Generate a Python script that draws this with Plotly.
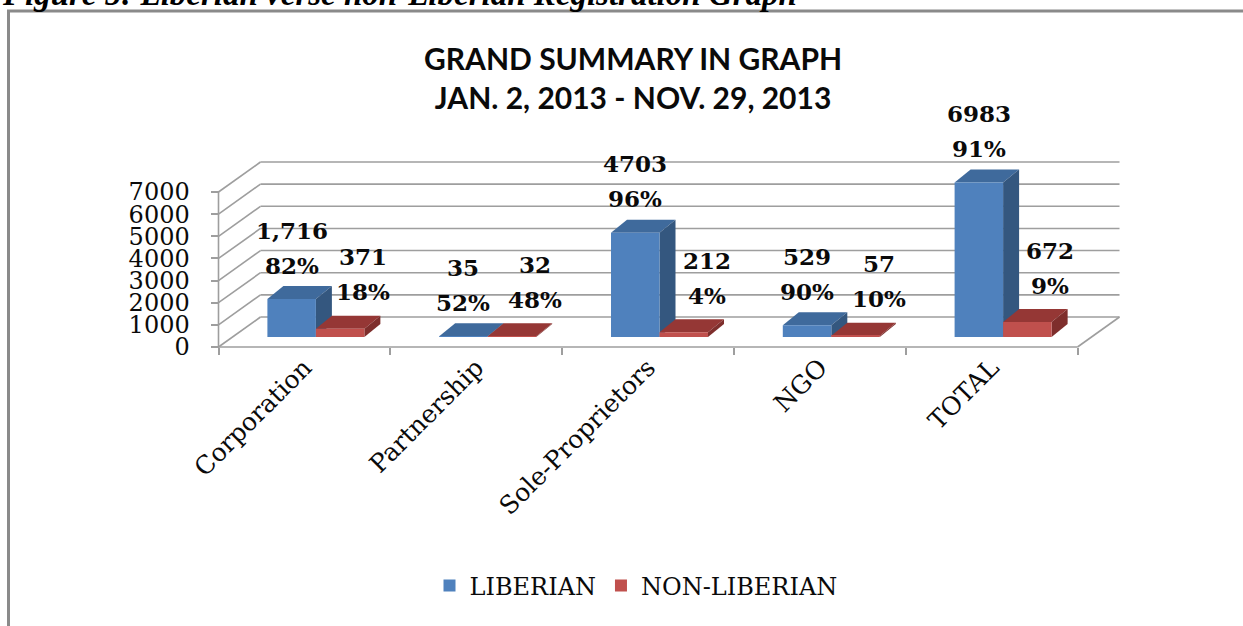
import plotly.graph_objects as go

# ---------------- data ----------------
CATEGORIES = ["Corporation", "Partnership", "Sole-Proprietors", "NGO", "TOTAL"]
LIBERIAN = [1716, 35, 4703, 529, 6983]
NON_LIBERIAN = [371, 32, 212, 57, 672]
LIBERIAN_TEXT = ["1,716", "35", "4703", "529", "6983"]
NON_LIBERIAN_TEXT = ["371", "32", "212", "57", "672"]
Y_TICKS = [0, 1000, 2000, 3000, 4000, 5000, 6000, 7000]
SERIES = ["LIBERIAN", "NON-LIBERIAN"]
TITLE = "GRAND SUMMARY IN GRAPH<br>JAN. 2, 2013 - NOV. 29, 2013"
CAPTION = "Figure 5: Liberian verse non-Liberian Registration Graph"

# ---------------- geometry (pixels) ----------------
W, H = 1243, 626
AX_X0, AX_X1 = 218.5, 1077.5      # front floor edge spans the categories
AX_Y0, AX_YTOP = 347.0, 192.0     # pixel of 0 and of top tick on the front plane
N = len(CATEGORIES)
PXX = (AX_X1 - AX_X0) / N
PXY = (AX_Y0 - AX_YTOP) / Y_TICKS[-1]


def dxu(px):
    return px / PXX


def dyu(px):
    return px / PXY


X_RANGE = [-0.5 - AX_X0 / PXX, -0.5 + (W - AX_X0) / PXX]
Y_RANGE = [-(H - AX_Y0) / PXY, AX_Y0 / PXY]

WALL_DX, WALL_DY = dxu(42), dyu(30)
BAR_SHIFT, BAR_W = 11.5, 48.5
BAR_BASE = dyu(10)
DEPTH_DX, DEPTH_DY = dxu(16), dyu(13)

BLUE = dict(front="#4F81BD", top="#3F6A9C", side="#34577F")
RED = dict(front="#C0504D", top="#953735", side="#7E2E2C")
GRID = "#9e9e9e"
SERIF = "DejaVu Serif"

idx = list(range(N))
xmin, xmax = -0.5, N - 0.5

fig = go.Figure()
offsets = [dxu(BAR_SHIFT - BAR_W), dxu(BAR_SHIFT)]
for name, vals, col, off in [(SERIES[0], LIBERIAN, BLUE, offsets[0]),
                             (SERIES[1], NON_LIBERIAN, RED, offsets[1])]:
    fig.add_trace(go.Bar(
        x=idx, y=vals, base=[BAR_BASE] * N, name=name,
        offset=off, width=dxu(BAR_W),
        marker=dict(color=col["front"], line=dict(width=0)),
        hoverinfo="name+y",
    ))

shapes = []
# walls / gridlines
for v in Y_TICKS:
    shapes.append(dict(type="line", xref="x", yref="y", layer="below",
                       x0=xmin, y0=v, x1=xmin + WALL_DX, y1=v + WALL_DY,
                       line=dict(color=GRID, width=1.6)))
    shapes.append(dict(type="line", xref="x", yref="y", layer="below",
                       x0=xmin + WALL_DX, y0=v + WALL_DY, x1=xmax + WALL_DX, y1=v + WALL_DY,
                       line=dict(color=GRID, width=1.6)))
# front y axis line
shapes.append(dict(type="line", xref="x", yref="y", layer="below",
                   x0=xmin, y0=Y_TICKS[0], x1=xmin, y1=Y_TICKS[-1],
                   line=dict(color=GRID, width=1.6)))
# floor front edge and right edge
shapes.append(dict(type="line", xref="x", yref="y", layer="below",
                   x0=xmin, y0=0, x1=xmax, y1=0, line=dict(color=GRID, width=1.6)))
shapes.append(dict(type="line", xref="x", yref="y", layer="below",
                   x0=xmax, y0=0, x1=xmax + WALL_DX, y1=WALL_DY,
                   line=dict(color=GRID, width=1.6)))


def faces(x0, v, col):
    x1 = x0 + dxu(BAR_W)
    yb, yt = BAR_BASE, BAR_BASE + v
    top = (f"M {x0},{yt} L {x1},{yt} L {x1 + DEPTH_DX},{yt + DEPTH_DY} "
           f"L {x0 + DEPTH_DX},{yt + DEPTH_DY} Z")
    side = (f"M {x1},{yb} L {x1},{yt} L {x1 + DEPTH_DX},{yt + DEPTH_DY} "
            f"L {x1 + DEPTH_DX},{yb + DEPTH_DY} Z")
    return [dict(type="path", path=top, xref="x", yref="y", layer="below",
                 fillcolor=col["top"], line=dict(width=0)),
            dict(type="path", path=side, xref="x", yref="y", layer="below",
                 fillcolor=col["side"], line=dict(width=0))]


for i in idx:
    shapes += faces(i + offsets[0], LIBERIAN[i], BLUE)
    shapes += faces(i + offsets[1], NON_LIBERIAN[i], RED)

# outer frame
shapes.append(dict(type="rect", xref="paper", yref="paper",
                   x0=8.5 / W, x1=1.05, y0=-0.05, y1=1 - 11 / H,
                   line=dict(color="#8a8a8a", width=3), layer="above"))

annotations = []
lab_font = dict(family=SERIF, size=23, color="#0a0a0a")
for i in idx:
    a, b = LIBERIAN[i], NON_LIBERIAN[i]
    pa = round(100 * a / (a + b))
    pb = round(100 * b / (a + b))
    xb = i + offsets[0] + dxu(BAR_W) / 2
    xr_ = i + offsets[1] + dxu(BAR_W) / 2
    annotations += [
        dict(x=xb, y=BAR_BASE + a, xref="x", yref="y", text=f"<b>{LIBERIAN_TEXT[i]}</b>",
             showarrow=False, yshift=69, font=lab_font),
        dict(x=xb, y=BAR_BASE + a, xref="x", yref="y", text=f"<b>{pa}%</b>",
             showarrow=False, yshift=34, font=lab_font),
        dict(x=xr_, y=BAR_BASE + b, xref="x", yref="y", text=f"<b>{NON_LIBERIAN_TEXT[i]}</b>",
             showarrow=False, yshift=72, xshift=23, font=lab_font),
        dict(x=xr_, y=BAR_BASE + b, xref="x", yref="y", text=f"<b>{pb}%</b>",
             showarrow=False, yshift=37, xshift=23, font=lab_font),
    ]

annotations.append(dict(x=633 / W, y=1 - 78 / H, xref="paper", yref="paper",
                        text=f"<b>{TITLE}</b>", showarrow=False, xanchor="center", yanchor="middle",
                        font=dict(family="Lato", size=30, color="#0a0a0a")))
annotations.append(dict(x=0, y=1 - 14 / H, xref="paper", yref="paper",
                        text=f"<b><i>{CAPTION}</i></b>", showarrow=False,
                        xanchor="left", yanchor="bottom",
                        font=dict(family="Liberation Serif", size=33, color="#000000")))

fig.update_layout(
    width=W, height=H,
    margin=dict(l=0, r=0, t=0, b=0),
    paper_bgcolor="white", plot_bgcolor="rgba(0,0,0,0)",
    barmode="overlay",
    shapes=shapes, annotations=annotations,
    showlegend=True,
    legend=dict(orientation="h", x=636 / W, xanchor="center", y=1 - 586 / H, yanchor="middle",
                font=dict(family=SERIF, size=24, color="#0a0a0a"), bgcolor="rgba(0,0,0,0)",
                itemclick=False),
    xaxis=dict(range=X_RANGE, anchor="free", position=1 - AX_Y0 / H,
               tickmode="array", tickvals=idx, ticktext=CATEGORIES, tickangle=-45,
               ticks="", showgrid=False, zeroline=False, showline=False,
               tickfont=dict(family=SERIF, size=25, color="#0a0a0a"),
               minor=dict(tickmode="array", tickvals=[i - 0.5 for i in range(N + 1)],
                          ticks="outside", ticklen=7, tickcolor=GRID, tickwidth=1.6),
               fixedrange=True),
    yaxis=dict(range=Y_RANGE, anchor="free", position=AX_X0 / W,
               tickmode="array", tickvals=Y_TICKS, ticks="outside", ticklen=8,
               tickcolor=GRID, tickwidth=1.6, ticklabelstandoff=16,
               showgrid=False, zeroline=False, showline=False,
               tickfont=dict(family=SERIF, size=24, color="#0a0a0a"),
               fixedrange=True),
)

fig.write_html("out.html", config={"displayModeBar": False},
               post_script="document.body.style.margin='0';document.body.style.overflow='hidden';")
